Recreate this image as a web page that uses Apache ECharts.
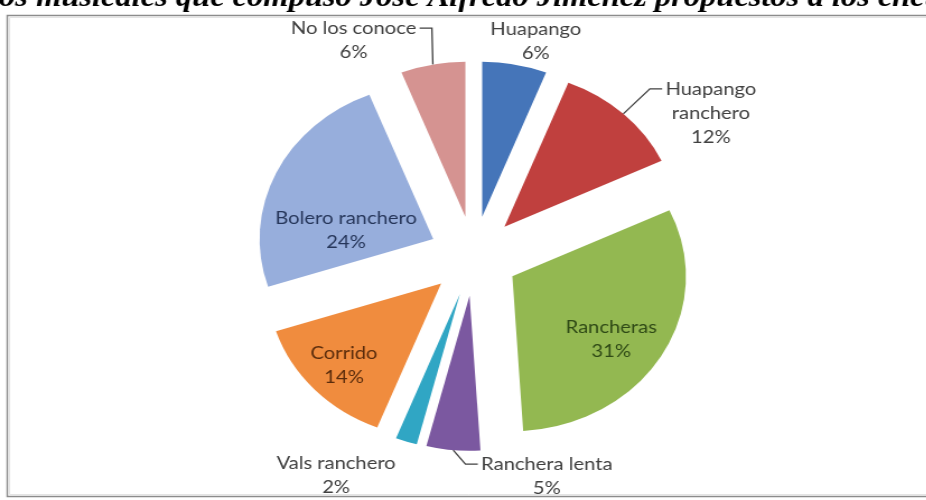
<!DOCTYPE html>
<html>
<head>
<meta charset="utf-8">
<script src="https://cdn.jsdelivr.net/npm/echarts@6/dist/echarts.min.js"></script>
<style>
  html, body { margin: 0; padding: 0; background: #fff; overflow: hidden; width: 926px; height: 500px; }
  /* the chart is drawn on a narrower canvas and widened, giving the oval pie */
  #chart { position: absolute; left: 0; top: 0; width: 827px; height: 500px; transform: scaleX(1.12); transform-origin: 0 0; }
</style>
</head>
<body>
<div id="chart"></div>
<script>
const titleText = 'Géneros musicales que compuso José Alfredo Jiménez propuestos a los encuestados';

const categories = ['Huapango', 'Huapango ranchero', 'Rancheras', 'Ranchera lenta',
                    'Vals ranchero', 'Corrido', 'Bolero ranchero', 'No los conoce'];
const labelNames = ['Huapango', 'Huapango\nranchero', 'Rancheras', 'Ranchera lenta',
                    'Vals ranchero', 'Corrido', 'Bolero ranchero', 'No los conoce'];
const percentages = [6, 12, 31, 5, 2, 14, 24, 6];

const sliceColors = ['#4575b9', '#c0403e', '#93b851', '#7b58a0', '#30a6c4', '#f08c3e', '#97aedc', '#d59391'];
const insideText = ['#404040', '#404040', '#2f4a16', '#404040', '#404040', '#5a2c0c', '#26365a', '#404040'];
const isInside = [false, false, true, false, false, true, true, false];
const hasLeader = [false, true, false, true, false, false, false, true];
// leader attaches to the label's left (-1) or right (+1) side
const leaderSide = [0, -1, 0, -1, 0, 0, 0, 1];
// label centre shift from its default anchor, px
const labelShift = [[-4, -8.5], [48, 10], [19, 22], [105, 11], [-38, 19.5], [-28, 27], [-5, 25.5], [-48, -9.5]];

const LINE_H = 24;

const chart = echarts.init(document.getElementById('chart'), null, { renderer: 'canvas' });

const data = categories.map((name, i) => ({
  name: name,
  value: percentages[i],
  selected: true,
  itemStyle: { color: sliceColors[i] },
  label: {
    position: isInside[i] ? 'inside' : 'outside',
    formatter: labelNames[i] + '\n{c}%',
    color: isInside[i] ? insideText[i] : '#404040'
  },
  labelLine: { show: hasLeader[i] }
}));

chart.setOption({
  animation: false,
  backgroundColor: '#ffffff',
  graphic: [
    {
      type: 'rect',
      shape: { x: 6.5, y: 15.5, width: 1000, height: 481 },
      style: { fill: 'none', stroke: '#8c8c8c', lineWidth: 1.5 },
      z: 0
    },
    {
      type: 'rect',
      shape: { x: 8.5, y: 17.5, width: 1000, height: 477 },
      style: { fill: 'none', stroke: '#e4e4e4', lineWidth: 1 },
      z: 0
    },
    {
      type: 'text',
      x: -75,
      y: 13,
      style: {
        text: titleText,
        fill: '#000',
        font: 'italic bold 29px "Liberation Serif"',
        textAlign: 'left',
        textVerticalAlign: 'bottom'
      },
      z: 5
    }
  ],
  series: [{
    type: 'pie',
    center: [423, 256],
    radius: [0, 155],
    startAngle: 90,
    clockwise: true,
    selectedMode: 'multiple',
    selectedOffset: 40,
    avoidLabelOverlap: false,
    silent: true,
    itemStyle: { borderWidth: 0 },
    select: { itemStyle: { borderWidth: 0 } },
    label: {
      fontFamily: 'Lato',
      fontSize: 18,
      lineHeight: LINE_H,
      color: '#404040'
    },
    labelLine: {
      length: 15,
      length2: 15,
      lineStyle: { color: '#404040', width: 1.3 }
    },
    labelLayout: function (p) {
      const i = p.dataIndex;
      const r = p.labelRect;
      const ax = p.align === 'left' ? r.x : (p.align === 'right' ? r.x + r.width : r.x + r.width / 2);
      const ay = r.y + r.height / 2;
      const cx = ax + labelShift[i][0];
      const cy = ay + labelShift[i][1];
      const out = {
        dx: cx - ax, dy: cy - ay,
        align: 'center', verticalAlign: 'middle'
      };
      if (hasLeader[i] && p.labelLinePoints) {
        const a = p.labelLinePoints[0];
        const side = leaderSide[i];
        const ex = cx + side * (r.width / 2 + 3);
        const ey = cy - r.height / 2 + LINE_H / 2;
        out.labelLinePoints = [[a[0], a[1]], [ex + side * 11, ey], [ex, ey]];
      }
      return out;
    },
    data: data
  }]
});
</script>
</body>
</html>
